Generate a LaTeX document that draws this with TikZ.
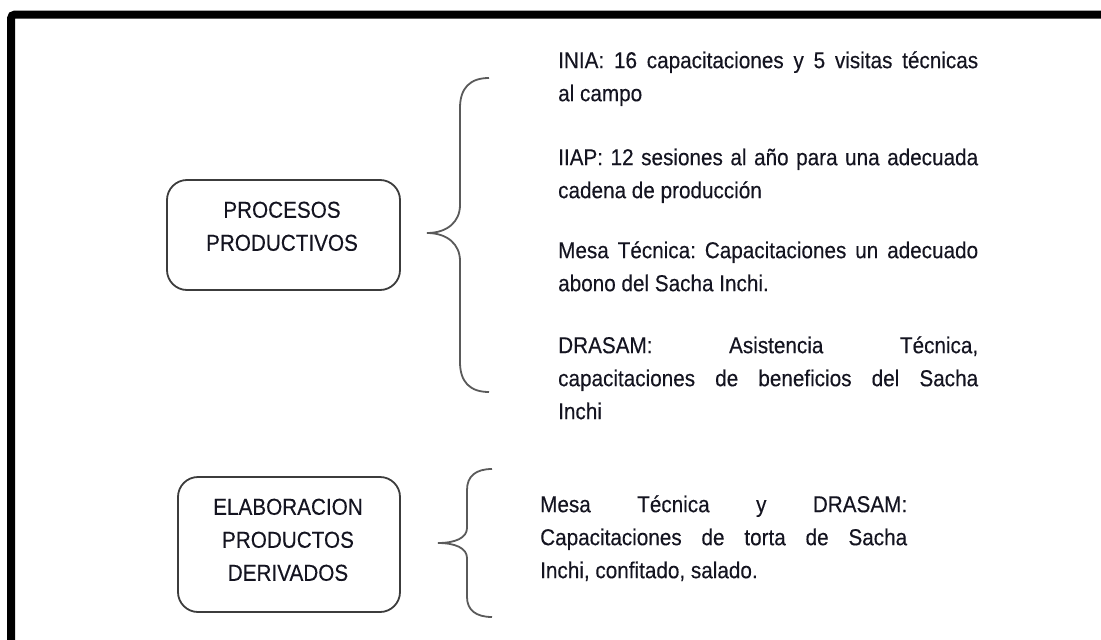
\documentclass[tikz,border=0pt]{standalone}
\usepackage{fontspec}
\setmainfont{Liberation Sans}[FakeStretch=0.9,FakeBold=0.3]
\usepackage{xcolor}
\definecolor{bx}{HTML}{3c3c3c}
\definecolor{br}{HTML}{5a5a5a}
\definecolor{tx}{HTML}{141420}
\hbadness=10000
\tolerance=10000
\frenchspacing

\begin{document}
\begin{tikzpicture}[x=1pt,y=-1pt]
          \tikzstyle{every node}=[inner sep=0pt,color=tx]
          \tikzstyle{caja}=[draw=bx,line width=1.8pt,rounded corners=20pt]
          \tikzstyle{titulo}=[font=\fontsize{23}{33}\selectfont,align=center,anchor=north]
          \tikzstyle{texto}=[font=\fontsize{23}{33}\selectfont,align=justify,anchor=north west]
          \tikzstyle{llave}=[draw=br,line width=1.8pt]
          \useasboundingbox (0,0) rectangle (1101,640);
          % marco
          \draw[line width=8pt,rounded corners=4pt] (11,645) -- (11,14.5) -- (1106,14.5);
          % cajas
          \node[caja,minimum width=233pt,minimum height=110pt] (procesos) at (283.5,235) {};
          \node[titulo] (procesosT) at (282,201.5) {PROCESOS\\PRODUCTIVOS};
          \node[caja,minimum width=222pt,minimum height=135pt] (elaboracion) at (289,544.5) {};
          \node[titulo] (elaboracionT) at (288,498.5) {ELABORACION\\PRODUCTOS\\DERIVADOS};
          % llaves
          \draw[llave] (489,78) .. controls (470,78) and (460,88) .. (460,108) -- (460,205)
                .. controls (460,222) and (447,233) .. (427,233)
                .. controls (447,233) and (460,244) .. (460,261) -- (460,362)
                .. controls (460,382) and (470,392) .. (489,392);
          \draw[llave] (492,469) .. controls (476,469) and (467,476) .. (467,490) -- (467,528)
                .. controls (467,538) and (455,543) .. (438,543)
                .. controls (455,543) and (467,548) .. (467,558) -- (467,597)
                .. controls (467,610) and (476,617) .. (492,617);
          % textos
          \node[texto,text width=420pt] (inia) at (558,44.9)
                {\strut INIA: 16 capacitaciones y 5 visitas técnicas\linebreak al campo};
          \node[texto,text width=420pt] (iiap) at (558,141.9)
                {\strut IIAP: 12 sesiones al año para una adecuada\linebreak cadena de producción};
          \node[texto,text width=420pt] (mesa) at (558,234.9)
                {\strut Mesa Técnica: Capacitaciones un adecuado\linebreak abono del Sacha Inchi.};
          \node[texto,text width=420pt] (drasam) at (558,329.9)
                {\strut DRASAM: Asistencia Técnica,\linebreak capacitaciones de beneficios del Sacha\linebreak Inchi};
          \node[texto,text width=367pt] (derivados) at (540,488.9)
                {\strut Mesa Técnica y DRASAM:\linebreak Capacitaciones de torta de Sacha\linebreak Inchi, confitado, salado.};
        \end{tikzpicture}
\end{document}
